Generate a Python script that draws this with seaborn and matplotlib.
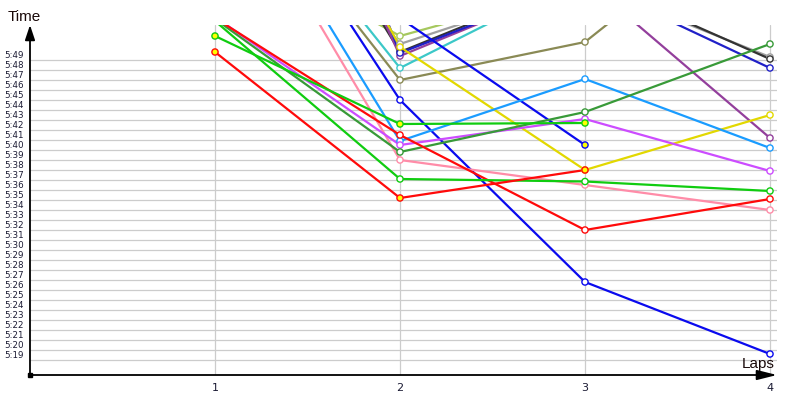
import numpy as np
import pandas as pd
import matplotlib
matplotlib.use("Agg")
import matplotlib.pyplot as plt
import seaborn as sns

# laps on the x axis
laps = [1, 2, 3, 4]

# lap times, in seconds past 5:00 (None = lap not driven)
red_a = [49.8, 35.2, 38.0, None]
green_a = [51.4, 42.6, 42.7, None]
red_b = [53.2, 41.5, 32.0, 35.1]
green_b = [52.9, 37.1, 36.85, 35.9]
dkgreen = [53.1, 39.8, 43.8, 50.6]
violet = [53.3, 40.5, 43.1, 37.9]
pink = [70.2, 39.0, 36.5, 34.0]
ltblue = [71.1, 40.9, 47.1, 40.2]
blue_a = [73.2, 45.0, 26.8, 19.6]
blue_b = [60.0, 53.2, 40.5, None]
yellow = [84.7, 50.3, 38.0, 43.5]
olive = [70.6, 47.0, 50.8, 65.5]
cyan = [71.4, 48.2, 57.5, None]
ygreen = [61.6, 51.4, 56.5, None]
gray = [74.1, 50.6, 56.7, 49.3]
black = [80.0, 49.8, 57.3, 49.1]
navy = [95.9, 49.7, 56.9, 48.2]
purple = [90.0, 49.4, 57.0, 41.2]

# points drawn with a yellow fill
best_marks = {
    "red_a": [1, 2, 3],
    "green_a": [1, 2, 3],
    "blue_b": [3],
}

series = {
    "ygreen": ygreen, "gray": gray, "black": black, "purple": purple,
    "navy": navy, "cyan": cyan, "olive": olive, "yellow": yellow,
    "blue_b": blue_b, "blue_a": blue_a, "ltblue": ltblue, "pink": pink,
    "violet": violet, "dkgreen": dkgreen, "red_b": red_b, "green_b": green_b,
    "green_a": green_a, "red_a": red_a,
}
colors = {
    "ygreen": "#a6c85e", "gray": "#a0a0a0", "black": "#333333", "purple": "#933f9c",
    "navy": "#2020c8", "cyan": "#3cc8c8", "olive": "#8a8a55", "yellow": "#e2d800",
    "blue_b": "#0a0aee", "blue_a": "#0a0aee", "ltblue": "#1a9cff", "pink": "#ff8ca8",
    "violet": "#cc4cff", "dkgreen": "#389a38", "red_b": "#ff0a0a", "green_b": "#10cc10",
    "green_a": "#10cc10", "red_a": "#ff0a0a",
}

# y ticks: 5:19 .. 5:49
tick_secs = list(range(19, 50))
tick_labels = ["5:%02d" % s for s in tick_secs]

rows = []
for name, vals in series.items():
    for lap, v in zip(laps, vals):
        if v is None:
            continue
        rows.append({"rider": name, "lap": lap, "time": 300 + v,
                     "best": lap in best_marks.get(name, [])})
df = pd.DataFrame(rows)

sns.set_style("white")
plt.rcParams["font.family"] = ["DejaVu Sans"]

fig, ax = plt.subplots(figsize=(8, 4), dpi=100)
fig.subplots_adjust(left=30 / 800, right=777 / 800, bottom=25 / 400, top=375 / 400)

sns.lineplot(data=df, x="lap", y="time", hue="rider", hue_order=list(series),
             palette=colors, legend=False, lw=1.6, sort=False, estimator=None, ax=ax)

for name in series:
    sub = df[df["rider"] == name]
    face = np.where(sub["best"], "#ffff00", "white")
    ax.scatter(sub["lap"], sub["time"], s=20, facecolors=face,
               edgecolors=colors[name], linewidths=1.0, zorder=3)

ax.set_xlim(0, 747 / 185)
ax.set_ylim(317.5, 352.5)
ax.set_xticks(laps)
ax.set_xticklabels([str(l) for l in laps], fontsize=8, color="#1a1a33")
ax.set_yticks([300 + s for s in tick_secs])
ax.set_yticklabels(tick_labels, fontsize=6.3, color="#1a1a33")
for lbl in ax.get_yticklabels():
    lbl.set_ha("left")
    lbl.set_va("bottom")
ax.tick_params(axis="y", length=0, pad=18.5)
ax.tick_params(axis="x", length=0, pad=6)
ax.grid(True, color="#cccccc", lw=0.9)
ax.set_axisbelow(True)
ax.set_xlabel("")
ax.set_ylabel("")
for sp in ax.spines.values():
    sp.set_visible(False)

# axis lines with arrows
ax.annotate("", xy=(0, 1.0), xytext=(0, 0), xycoords="axes fraction",
            arrowprops=dict(arrowstyle="-|>,head_length=0.9,head_width=0.3",
                            color="black", lw=1.3, shrinkA=0, shrinkB=0,
                            mutation_scale=10))
ax.annotate("", xy=(1.0, 0), xytext=(0, 0), xycoords="axes fraction",
            arrowprops=dict(arrowstyle="-|>,head_length=1.2,head_width=0.3",
                            color="black", lw=1.3, shrinkA=0, shrinkB=0,
                            mutation_scale=10))
ax.plot(0, 0, "s", color="black", ms=3, transform=ax.transAxes, clip_on=False)

fig.text(8 / 800, 1 - 21 / 400, "Time", fontsize=11, ha="left", va="baseline",
         family=["Liberation Sans", "DejaVu Sans"], color="#1a0a0a")
fig.text(775 / 800, 1 - 368 / 400, "Laps", fontsize=11, ha="right", va="baseline",
         family=["Liberation Sans", "DejaVu Sans"], color="#1a0a0a")

fig.savefig("out.png", dpi=100)
